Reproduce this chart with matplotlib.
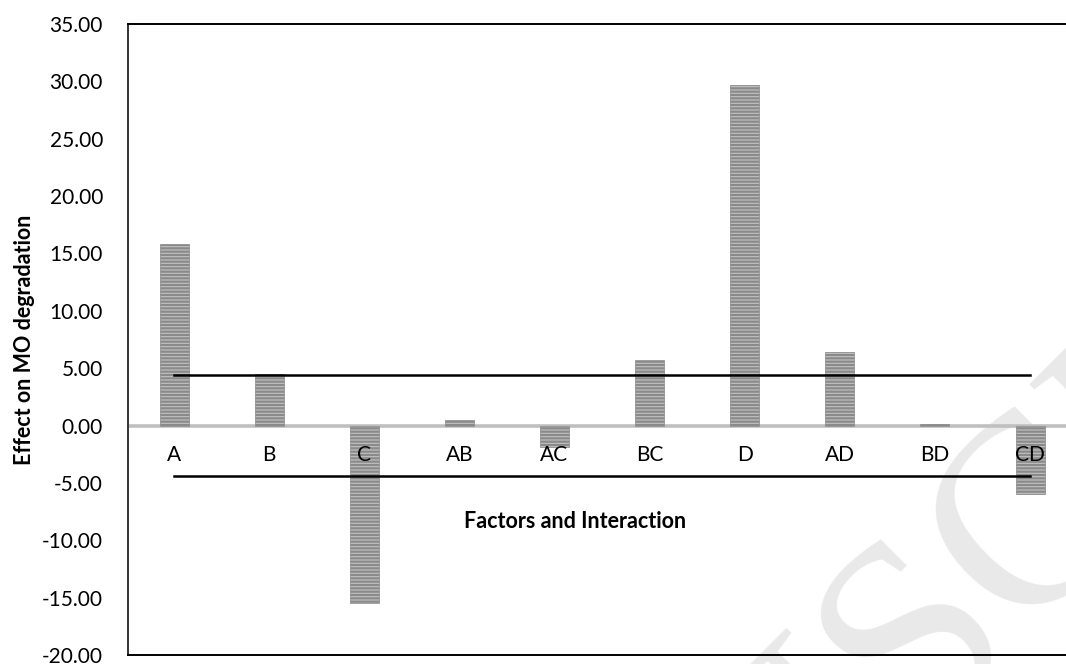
import matplotlib
matplotlib.use("Agg")
import matplotlib.pyplot as plt
import numpy as np

categories = ["A", "B", "C", "AB", "AC", "BC", "D", "AD", "BD", "CD"]
effects = [15.8, 4.45, -15.5, 0.5, -1.85, 5.7, 29.7, 6.45, 0.15, -6.0]
limit_upper = 4.37
limit_lower = -4.37
yticks = [-20, -15, -10, -5, 0, 5, 10, 15, 20, 25, 30, 35]

plt.rcParams['font.family'] = ['Lato', 'DejaVu Sans']
plt.rcParams['hatch.linewidth'] = 1.6
plt.rcParams['hatch.color'] = '#5c5c5c'

fig = plt.figure(figsize=(10.66, 6.64), dpi=100)

# faint watermark from the source page
fig.text(980/1066, 1 - 588/664, "USCR", rotation=45, rotation_mode='anchor',
         fontsize=195, color='#e9e9e9', family='Liberation Serif',
         ha='center', va='center', zorder=-5)

ax = fig.add_axes([128/1066, 9/664, 1 - 128/1066, 631/664])
ax.patch.set_alpha(0)

x = np.arange(len(categories))
ax.bar(x, effects, width=0.305, color='#c2c2c2', edgecolor='#8a8a8a',
       linewidth=0.5, hatch='-----', zorder=2)

ax.axhline(0, color='#bfbfbf', linewidth=2.6, zorder=1)
ax.plot([x[0], x[-1]], [limit_upper, limit_upper], color='black', lw=1.8, zorder=3)
ax.plot([x[0], x[-1]], [limit_lower, limit_lower], color='black', lw=1.8, zorder=3)

for xi, lab in zip(x, categories):
    ax.annotate(lab, (xi, 0), xytext=(0, -21.5), textcoords='offset points',
                ha='center', va='center', fontsize=15, color='black', zorder=4)

ax.set_xlim(-0.484, 9.378)
ax.set_ylim(-20, 35)
ax.set_yticks(yticks)
ax.set_yticklabels([f"{v:.2f}" for v in yticks], fontsize=15)
ax.tick_params(axis='y', length=0, pad=18)
ax.set_xticks([])

for s in ['top', 'bottom', 'left']:
    ax.spines[s].set_color('black')
    ax.spines[s].set_linewidth(1.4)
ax.spines['left'].set_color('#333333')
ax.spines['right'].set_visible(False)

ax.set_ylabel("Effect on MO degradation", fontsize=15.5, fontweight='bold', labelpad=5)
fig.text(575/1066, 1 - 521/664, "Factors and Interaction", ha='center', va='center',
         fontsize=15.5, fontweight='bold')

fig.savefig("out.png", dpi=100)
